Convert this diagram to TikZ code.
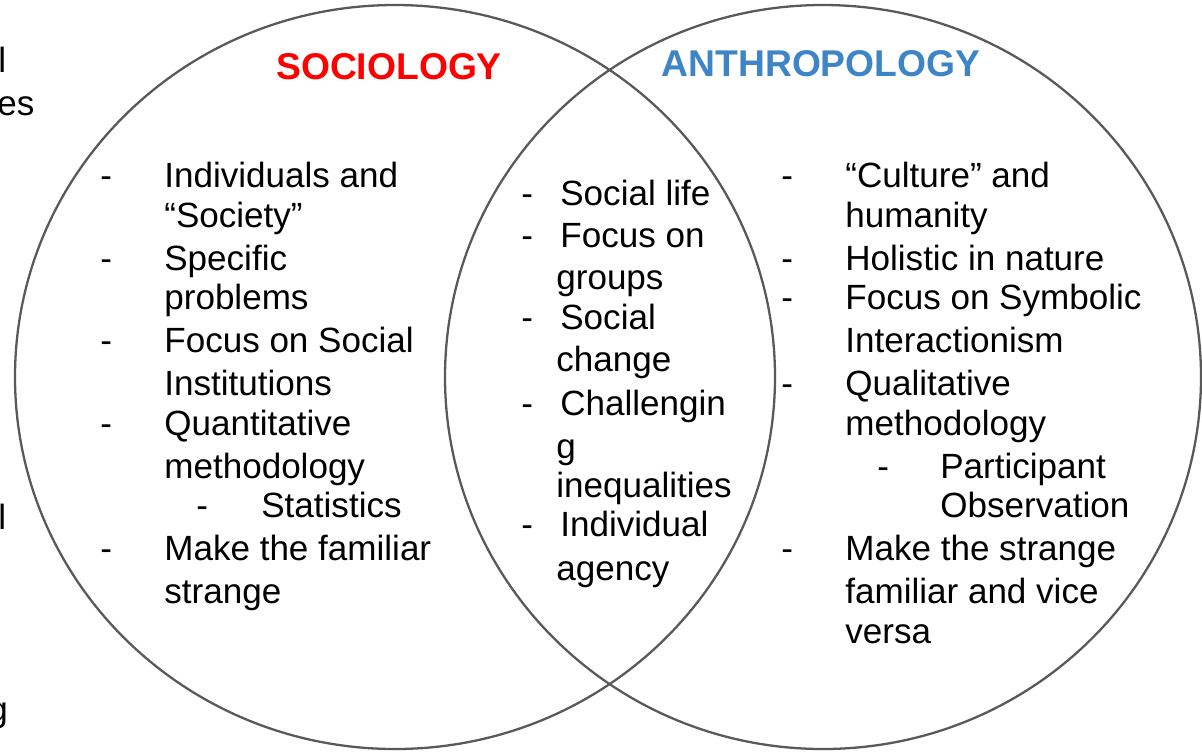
\documentclass[tikz,border=0pt]{standalone}
\usepackage{fontspec}
\setmainfont{Liberation Sans}
\usepackage{xcolor}
\usetikzlibrary{positioning}

\definecolor{socred}{HTML}{FF0000}
\definecolor{anthblue}{HTML}{3D85C6}
\definecolor{ringgray}{HTML}{595959}

\begin{document}
\begin{tikzpicture}[
    x=0.02cm, y=-0.02cm,
    ring/.style={draw=ringgray, line width=1.3pt},
    titletext/.style={anchor=base, inner sep=0pt,
        font=\fontsize{21.2pt}{25pt}\selectfont\bfseries},
    itemtext/.style={anchor=base west, inner sep=0pt,
        font=\fontsize{19.95pt}{23pt}\selectfont},
    fragtext/.style={inner sep=0pt,
        font=\fontsize{19.95pt}{23pt}\selectfont},
]

\useasboundingbox (0,0) rectangle (1202,752);
\clip (0,0) rectangle (1202,752);

% ---- Circles ----
\draw[ring] (395,377) ellipse [x radius=380, y radius=372];
\draw[ring] (823,377) ellipse [x radius=378, y radius=372];

% ---- Titles ----
\node[titletext, text=socred] (soctitle) at (389,79) {SOCIOLOGY};
\node[titletext, text=anthblue] (anthtitle) at (821,76) {ANTHROPOLOGY};

% ---- Sociology items ----
\foreach \y/\t [count=\i] in {187/Individuals and, 227/“Society”,
    270/Specific, 309/problems, 352/Focus on Social, 395/Institutions,
    435/Quantitative, 478/methodology, 560/Make the familiar, 603/strange} {
    \node[itemtext] (soc\i) at (164,\y) {\t};
}
\foreach \y [count=\i] in {187,270,352,435,560} {
    \node[itemtext] (socdash\i) at (100,\y) {-};
}
\node[itemtext] (socsubdash) at (196,517) {-};
\node[itemtext] (socsub) at (261,517) {Statistics};

% ---- Overlap items ----
\foreach \y/\t [count=\i] in {205/Social life, 247/Focus on, 329/Social,
    415/Challengin, 536/Individual} {
    \node[itemtext] (mid\i) at (560,\y) {\t};
    \node[itemtext] (middash\i) at (521,\y) {-};
}
\foreach \y/\t [count=\i] in {289/groups, 371/change, 458/g,
    497/inequalities, 580/agency} {
    \node[itemtext] (midcont\i) at (556,\y) {\t};
}

% ---- Anthropology items ----
\foreach \y/\t [count=\i] in {187/“Culture” and, 227/humanity,
    270/Holistic in nature, 309/Focus on Symbolic, 352/Interactionism,
    395/Qualitative, 435/methodology, 560/Make the strange,
    603/familiar and vice, 643/versa} {
    \node[itemtext] (anth\i) at (845,\y) {\t};
}
\foreach \y [count=\i] in {187,270,309,395,560} {
    \node[itemtext] (anthdash\i) at (781,\y) {-};
}
\node[itemtext] (anthsubdash) at (877,478) {-};
\node[itemtext] (anthsub1) at (940,478) {Participant};
\node[itemtext] (anthsub2) at (940,517) {Observation};

% ---- Cut-off text at the left edge ----
\node[fragtext, anchor=base west] (frag1) at (-2,72) {l};
\node[fragtext, anchor=base west] (frag2) at (-3,115) {es};
\node[fragtext, anchor=base west] (frag3) at (-2,529) {l};
\node[fragtext, anchor=base west] (frag4) at (-12,721) {g};

\end{tikzpicture}
\end{document}
